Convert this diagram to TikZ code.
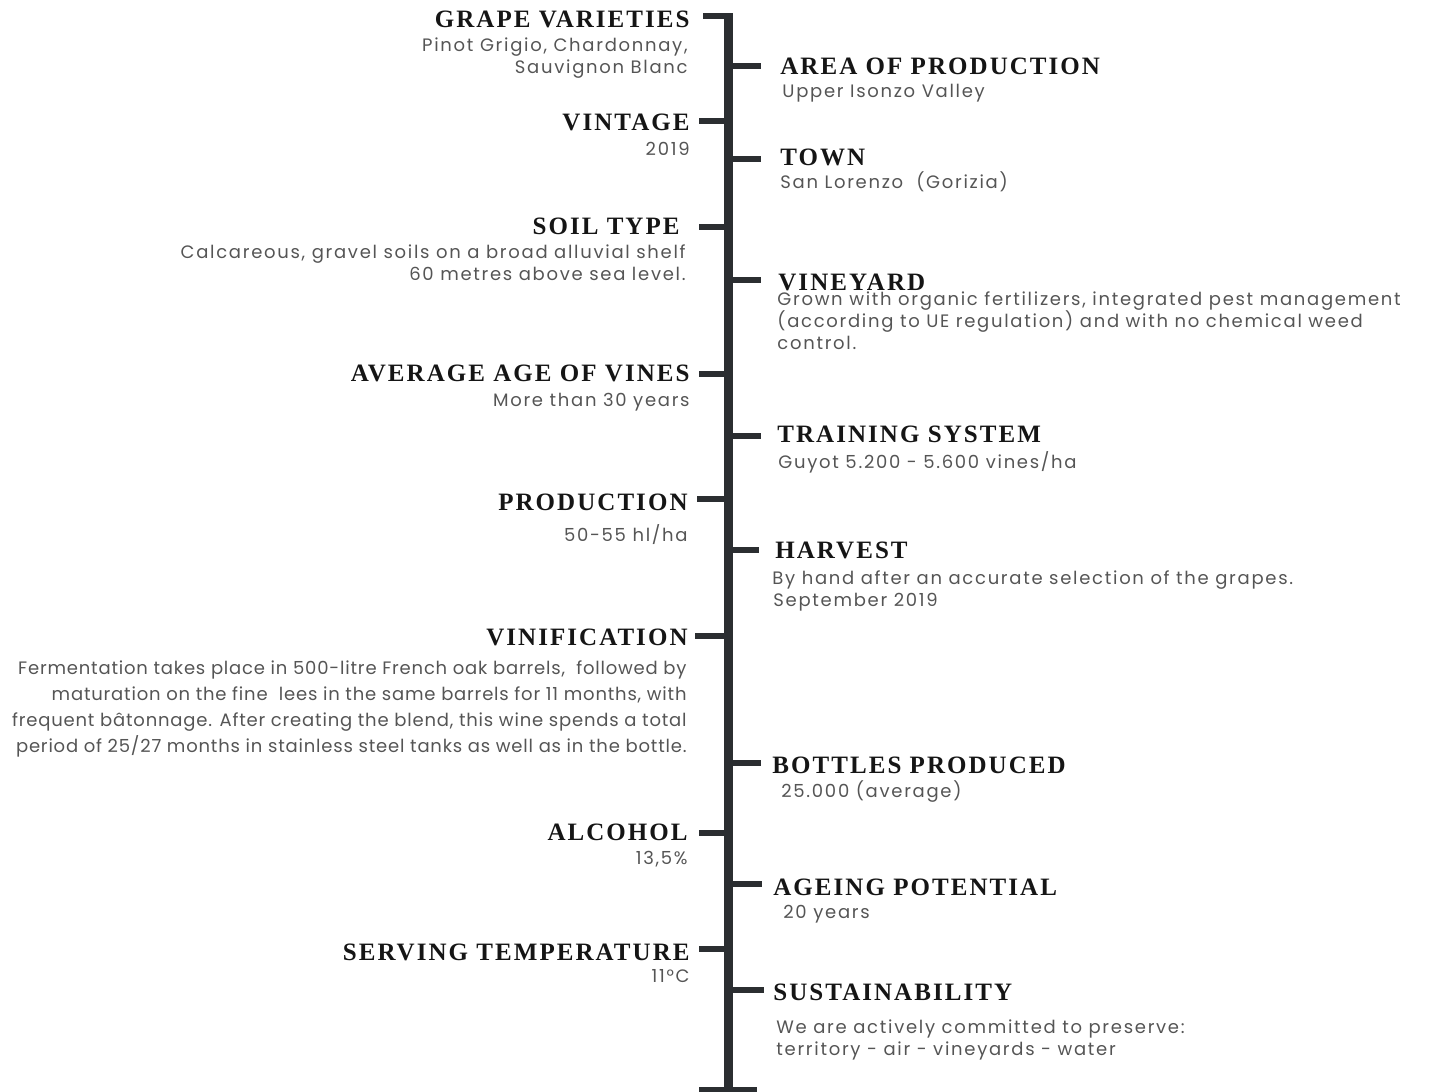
\documentclass[tikz,border=0pt]{standalone}
\usepackage{fontspec}
\usepackage{tikz}
\usetikzlibrary{positioning}
\newfontfamily\headfont[LetterSpace=8.2]{Liberation Serif}
\newfontfamily\bodyfont[LetterSpace=9.5]{Poppins}
\newfontfamily\notefont[LetterSpace=4.5]{Poppins}
\definecolor{spine}{HTML}{2B2E31}
\definecolor{head}{HTML}{151515}
\definecolor{body}{HTML}{555555}

\tikzset{
  lhead/.style={anchor=base east, inner sep=0pt, text=head,
    font=\headfont\bfseries\fontsize{12.5}{14}\selectfont},
  rhead/.style={lhead, anchor=base west},
  lbody/.style={anchor=base east, align=right, inner sep=0pt, text=body,
    font=\bodyfont\fontsize{9}{11}\selectfont},
  rbody/.style={lbody, anchor=base west, align=left},
  arm/.style={draw=spine, line width=3pt},
}

\begin{document}
\begin{tikzpicture}[x=0.5pt, y=-0.5pt]
  \useasboundingbox (0,0) rectangle (1440,1092);

  % left column (body nodes sit on their last line)
  \path
  (690,27) node[lhead](grape) {GRAPE VARIETIES}
  (688,73) node[lbody](grape-t) {Pinot Grigio, Chardonnay,\\Sauvignon Blanc}
  (690,130) node[lhead](vintage) {VINTAGE}
  (690,155) node[lbody](vintage-t) {2019}
  (680,234) node[lhead](soil) {SOIL TYPE}
  (686,280) node[lbody](soil-t) {Calcareous, gravel soils on a broad alluvial shelf\\60 metres above sea level.}
  (690,381) node[lhead](age) {AVERAGE AGE OF VINES}
  (690,406) node[lbody](age-t) {More than 30 years}
  (688,510) node[lhead](prod) {PRODUCTION}
  (688,541) node[lbody](prod-t) {50-55 hl/ha}
  (688,645) node[lhead](vinif) {VINIFICATION}
  (687,752) node[lbody, font=\notefont\fontsize{9}{13}\selectfont](vinif-t)
    {Fermentation takes place in 500-litre French oak barrels,~ followed by\\
     maturation on the fine~ lees in the same barrels for 11 months, with\\
     frequent bâtonnage. After creating the blend, this wine spends a total\\
     period of 25/27 months in stainless steel tanks as well as in the bottle.}
  (688,840) node[lhead](alc) {ALCOHOL}
  (688,864) node[lbody](alc-t) {13,5\%}
  (690,960) node[lhead](serve) {SERVING TEMPERATURE}
  (690,982) node[lbody](serve-t) {11°C}
  ;

  % right column
  \path
  (780,74) node[rhead](area) {AREA OF PRODUCTION}
  (782,97) node[rbody](area-t) {Upper Isonzo Valley}
  (780,165) node[rhead](town) {TOWN}
  (780,188) node[rbody](town-t) {San Lorenzo~ (Gorizia)}
  (778,290) node[rhead](vine) {VINEYARD}
  (777,349) node[rbody](vine-t) {Grown with organic fertilizers, integrated pest management\\(according to UE regulation) and with no chemical weed\\control.}
  (777,442) node[rhead](train) {TRAINING SYSTEM}
  (778,468) node[rbody](train-t) {Guyot 5.200 - 5.600 vines/ha}
  (775,558) node[rhead](harv) {HARVEST}
  (772,606) node[rbody](harv-t) {By hand after an accurate selection of the grapes.\\\hspace{0.5pt}September 2019}
  (772,773) node[rhead](bottles) {BOTTLES PRODUCED}
  (781,797) node[rbody](bottles-t) {25.000 (average)}
  (773,895) node[rhead](ageing) {AGEING POTENTIAL}
  (783,918) node[rbody](ageing-t) {20 years}
  (773,1000) node[rhead](sust) {SUSTAINABILITY}
  (776,1055) node[rbody](sust-t) {We are actively committed to preserve:\\territory - air - vineyards - water}
  ;

  % spine and arms
  \path
  (728.5,13) coordinate(top)
  (728.5,1092) coordinate(bottom)
  (699,1090) coordinate(foot-l)
  (757,1090) coordinate(foot-r)
  (703,15.5) coordinate(grape-a) (728,15.5) coordinate(grape-s)
  (699,121) coordinate(vintage-a) (728,121) coordinate(vintage-s)
  (699,227) coordinate(soil-a) (728,227) coordinate(soil-s)
  (699,374) coordinate(age-a) (728,374) coordinate(age-s)
  (697,499) coordinate(prod-a) (728,499) coordinate(prod-s)
  (695,636) coordinate(vinif-a) (728,636) coordinate(vinif-s)
  (699,833) coordinate(alc-a) (728,833) coordinate(alc-s)
  (699,949) coordinate(serve-a) (728,949) coordinate(serve-s)
  (761,66) coordinate(area-a) (728,66) coordinate(area-s)
  (761,159) coordinate(town-a) (728,159) coordinate(town-s)
  (761,280) coordinate(vine-a) (728,280) coordinate(vine-s)
  (761,436) coordinate(train-a) (728,436) coordinate(train-s)
  (759,550) coordinate(harv-a) (728,550) coordinate(harv-s)
  (761,763) coordinate(bottles-a) (728,763) coordinate(bottles-s)
  (762,884) coordinate(ageing-a) (728,884) coordinate(ageing-s)
  (764,990) coordinate(sust-a) (728,990) coordinate(sust-s)
  ;

  \draw[arm] (grape-a) -- (grape-s);
  \draw[arm] (vintage-a) -- (vintage-s);
  \draw[arm] (soil-a) -- (soil-s);
  \draw[arm] (age-a) -- (age-s);
  \draw[arm] (prod-a) -- (prod-s);
  \draw[arm] (vinif-a) -- (vinif-s);
  \draw[arm] (alc-a) -- (alc-s);
  \draw[arm] (serve-a) -- (serve-s);
  \draw[arm] (area-s) -- (area-a);
  \draw[arm] (town-s) -- (town-a);
  \draw[arm] (vine-s) -- (vine-a);
  \draw[arm] (train-s) -- (train-a);
  \draw[arm] (harv-s) -- (harv-a);
  \draw[arm] (bottles-s) -- (bottles-a);
  \draw[arm] (ageing-s) -- (ageing-a);
  \draw[arm] (sust-s) -- (sust-a);
  \draw[arm] (foot-l) -- (foot-r);
  \draw[draw=spine, line width=4.5pt] (top) -- (bottom);
\end{tikzpicture}
\end{document}
